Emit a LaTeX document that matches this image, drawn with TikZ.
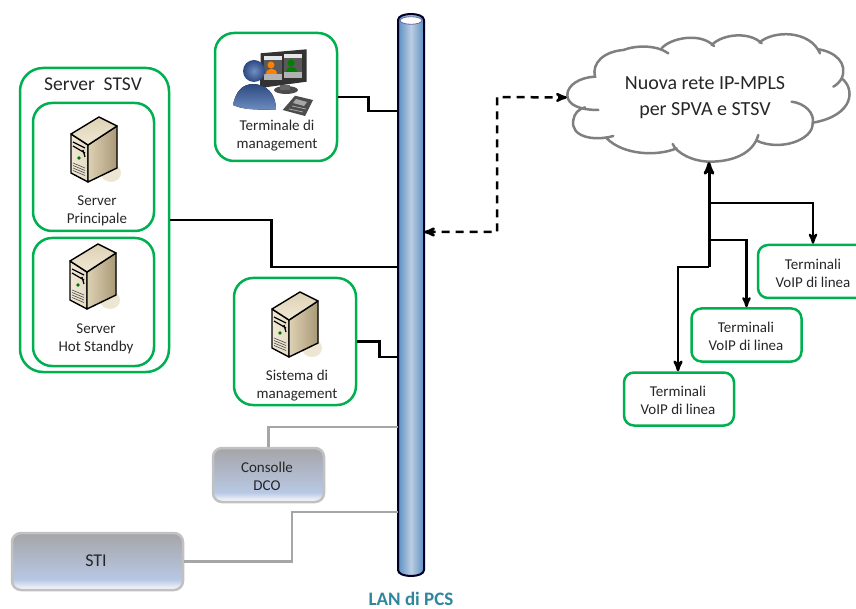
\documentclass[tikz,border=0pt]{standalone}
\usepackage{fontspec}
\setmainfont{Carlito}
\usetikzlibrary{positioning, arrows}
\definecolor{boxgreen}{RGB}{0,176,80}
\definecolor{greyline}{RGB}{166,166,166}
\definecolor{cloudline}{RGB}{127,127,127}
\definecolor{lanblue}{RGB}{90,143,196}
\definecolor{lanlight}{RGB}{190,205,225}
\definecolor{lanteal}{RGB}{49,133,156}
\definecolor{textgrey}{RGB}{38,38,38}
\definecolor{fadetop}{RGB}{165,165,168}
\definecolor{fademid}{RGB}{184,200,228}
\definecolor{sandlight}{RGB}{240,232,212}
\definecolor{sandmid}{RGB}{222,210,180}
\definecolor{sanddark}{RGB}{168,152,118}
\definecolor{sandshadow}{RGB}{236,230,210}
\definecolor{userlight}{RGB}{112,144,196}
\definecolor{userdark}{RGB}{44,72,128}
\pgfdeclareverticalshading{greyfade}{100bp}{color(0bp)=(white); color(25bp)=(white); color(34bp)=(fademid); color(75bp)=(fadetop); color(100bp)=(fadetop)}
\tikzset{
        >=stealth', % makes the arrow heads bold
        x=1pt, y=-1pt, % one unit is one pixel of the reference
        every node/.style={text=textgrey},
    }
\tikzstyle{greenbox}=[draw=boxgreen,line width=2.5pt,rounded corners=19pt,inner sep=0pt]
\tikzstyle{voipbox}=[draw=boxgreen,line width=2.5pt,rounded corners=10pt,inner sep=0pt,minimum width=110pt,minimum height=53pt]
\tikzstyle{greybox}=[draw=greyline!70,line width=2.5pt,rounded corners=9pt,inner sep=0pt,shading=greyfade]
\tikzstyle{boxtext}=[align=center,inner sep=0pt,font=\fontsize{15}{18}\selectfont]
\tikzstyle{blackline}=[line width=2.5pt,black]
\tikzstyle{greyconn}=[line width=2.2pt,greyline]
\tikzset{
    serverpic/.pic={
        \fill[sandshadow] (12,56) ellipse (10pt and 9pt);
        \fill[draw=black,line width=1.4pt,left color=sandlight,right color=sandlight!85!sanddark,line join=round] (-28,17) -- (-11,28) -- (-11,65) -- (-28,56) -- cycle;
        \fill[draw=black,line width=1.4pt,left color=sandmid,right color=sanddark,line join=round] (-11,28) -- (18,9) -- (18,51) -- (-11,65) -- cycle;
        \fill[draw=black,line width=1.4pt,top color=sandmid,bottom color=sandlight,line join=round] (0,0) -- (18,9) -- (-11,28) -- (-28,17) -- cycle;
        \draw[black,line width=1.2pt] (-26,25) -- (-14,31) (-26,29) -- (-14,36) (-16,33) -- (-14,40);
        \fill[green!45!black] (-20,41) circle (1.8pt);
        \foreach \gy in {50,52.5,55,57.5}
            \draw[black!70,line width=0.6pt] (-26,\gy-4) -- (-14,\gy+1);
    },
    mgmtpic/.pic={
        % monitors
        \fill[black!80] (6.7,-17.7) -- (52.7,-21.7) -- (52.7,10.7) -- (6,17) -- cycle;
        \fill[black!65] (10,-15) rectangle (28,9);
        \fill[black!65] (30,-17) rectangle (48,7);
        \fill[white!90!black] (10,-15) rectangle (28,-11);
        \fill[white!90!black] (30,-17) rectangle (48,-13);
        \fill[white!70!black] (10,3) rectangle (28,9);
        \fill[white!70!black] (30,1) rectangle (48,7);
        \fill[orange] (17,-6) circle (3.5pt);
        \fill[orange] (11.5,3) .. controls (11.5,-4) and (22.5,-4) .. (22.5,3) -- cycle;
        \fill[green!50!black] (37,-8) circle (3.5pt);
        \fill[green!50!black] (31.5,1) .. controls (31.5,-6) and (42.5,-6) .. (42.5,1) -- cycle;
        % stand
        \fill[black!70] (32,19) ellipse (12pt and 4pt);
        \fill[black!60] (26,14) rectangle (36,19);
        % user
        \fill[top color=userdark,bottom color=userlight] (-21,34) .. controls (-18,20) and (-12,14) .. (-2,13) .. controls (12,13) and (22,22) .. (22,39) .. controls (8,38) and (-8,40) .. (-21,34) -- cycle;
        \shade[inner color=userlight,outer color=userdark] (0,0) circle (11pt);
        % phone
        \fill[black!70] (28.7,39) -- (41,24.7) -- (59,29) -- (51,45) -- cycle;
        \fill[black!35] (42,28) -- (53,31) -- (50,35) -- (39,32) -- cycle;
        \draw[black!30,line width=0.7pt] (35,38) -- (49,41) (38,35) -- (52,38);
    },
}
\begin{document}
\begin{tikzpicture}
    \useasboundingbox (0,0) rectangle (856,609);
    % LAN
    \shade[draw=black!85!blue,line width=2pt,left color=lanblue,right color=lanblue,middle color=lanlight]
        (398,20) .. controls (398,12) and (424,12) .. (424,20) -- (424,570)
        .. controls (424,578) and (398,578) .. (398,570) -- cycle;
    \fill[white,draw=blue!40!black!60!white,line width=0.8pt] (411,20.5) ellipse (11pt and 3.8pt);
    \node[minimum width=26pt,minimum height=556pt,inner sep=0pt] (lan) at (411,295) {};
    \node[inner sep=0pt,font=\fontsize{19}{22}\selectfont\bfseries,text=lanteal] (lanlabel) at (411,599) {LAN di PCS};

    % server group
    \node[greenbox,rounded corners=23pt,minimum width=149pt,minimum height=304pt] (stsv) at (94.5,220) {};
    \node[font=\fontsize{19.5}{22}\selectfont] (stsvlabel) at (93,84) {Server\ \ STSV};
    \node[greenbox,minimum width=121pt,minimum height=128pt] (principale) at (93.5,167) {};
    \node[greenbox,minimum width=121pt,minimum height=128pt] (standby) at (93.5,302) {};
    \pic at (99,117) {serverpic};
    \pic at (98,244) {serverpic};
    \node[boxtext] (principalelabel) at (97,210.5) {Server\\Principale};
    \node[boxtext] (standbylabel) at (96,338.5) {Server\\Hot Standby};

    % management
    \node[greenbox,minimum width=122pt,minimum height=128pt] (terminale) at (276,97) {};
    \pic at (254,71) {mgmtpic};
    \node[boxtext] (terminalelabel) at (277,135.5) {Terminale di\\management};
    \node[greenbox,minimum width=122pt,minimum height=127pt] (sistema) at (295,341.5) {};
    \pic at (300,292) {serverpic};
    \node[boxtext] (sistemalabel) at (297,385.5) {Sistema di\\management};

    % grey boxes
    \node[greybox,minimum width=111pt,minimum height=54pt] (consolle) at (268.5,475) {};
    \node[boxtext] (consollelabel) at (267,476) {Consolle\\DCO};
    \node[greybox,minimum width=171pt,minimum height=57pt] (sti) at (97.5,561.5) {};
    \node[boxtext,font=\fontsize{18}{20}\selectfont] (stilabel) at (96,561) {STI};

    % cloud
    \begin{scope}[x=0.3333pt,y=-0.3333pt,shift={(480pt,-20pt)}]
    \draw[cloudline,line width=2.5pt,line cap=round]
        (355,270) .. controls (300,270) and (262,255) .. (262,225) .. controls (262,195) and (300,172) .. (345,170)
        .. controls (335,130) and (370,95) .. (430,90) .. controls (470,75) and (530,75) .. (565,100)
        (545,85) .. controls (570,55) and (660,35) .. (702,78)
        (695,75) .. controls (730,40) and (810,35) .. (845,70)
        (838,68) .. controls (880,30) and (990,30) .. (1020,100)
        (1015,88) .. controls (1065,95) and (1105,130) .. (1085,175)
        (1060,200) .. controls (1070,195) and (1080,185) .. (1085,175) .. controls (1125,205) and (1125,285) .. (1000,308)
        (935,245) .. controls (975,250) and (1005,280) .. (998,310) .. controls (1000,360) and (900,395) .. (830,362)
        (835,345) .. controls (820,400) and (760,425) .. (690,425) .. controls (640,425) and (590,400) .. (578,372)
        (590,385) .. controls (530,410) and (430,405) .. (380,355)
        (400,348) .. controls (340,365) and (270,350) .. (280,300) .. controls (283,280) and (295,268) .. (315,262);
    \end{scope}
    \node[minimum width=285pt,minimum height=129pt,inner sep=0pt] (cloudnet) at (709.5,97.5) {};
    \node[align=center,inner sep=0pt,font=\fontsize{20}{26}\selectfont] (cloudlabel) at (705,97.5) {Nuova rete IP-MPLS\\per SPVA e STSV};

    % VoIP boxes
    \node[voipbox] (voipa) at (813,271.5) {};
    \node[voipbox] (voipb) at (746.5,335) {};
    \node[voipbox] (voipc) at (679,399) {};
    \node[boxtext] (voipalabel) at (813,273) {Terminali\\VoIP di linea};
    \node[boxtext] (voipblabel) at (746,336) {Terminali\\VoIP di linea};
    \node[boxtext] (voipclabel) at (678,400) {Terminali\\VoIP di linea};

    % connectors
    \draw[blackline] (terminale.east) -- ++(30,0) |- (lan.west |- 0,111);
    \draw[blackline] (stsv.east) -- ++(101,0) |- (lan.west |- 0,267);
    \draw[blackline] (sistema.east) -- ++(22,0) |- (lan.west |- 0,357);
    \draw[greyconn] (consolle.north) |- (lan.west |- 0,427);
    \draw[greyconn] (sti.east) -- ++(108,0) |- (lan.west |- 0,512);
    \draw[blackline,dashed,dash pattern=on 8pt off 6pt,<->] (lan.east |- 0,232) -| (497,97) -- (cloudnet.west);
    \draw[blackline,line width=3pt,->] (709,267) -- (cloudnet.south -| 709,0);
    \draw[blackline,->] (709,267) -- (678,267) -- (voipc.north -| 678,0);
    \draw[blackline,->,line width=2.3pt] (709,203) -| (voipa.north);
    \draw[blackline,->,line width=2.3pt] (709,240) -| (voipb.north);
\end{tikzpicture}
\end{document}
